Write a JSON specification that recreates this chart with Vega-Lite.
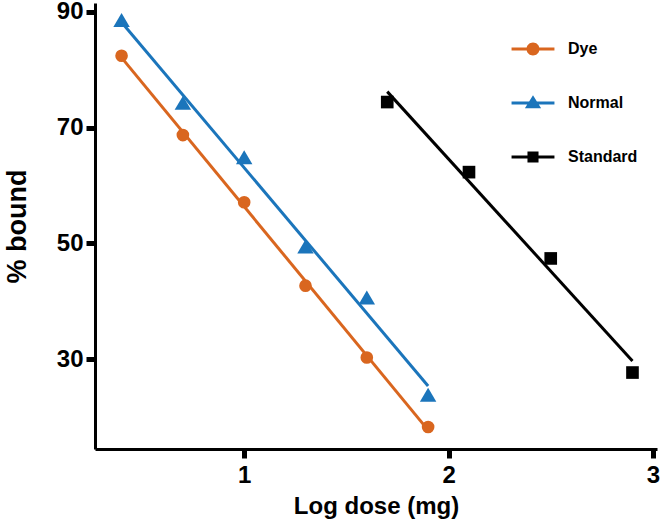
{
  "$schema": "https://vega.github.io/schema/vega-lite/v6.json",
  "width": 562,
  "height": 446,
  "autosize": "none",
  "padding": {"left": 95, "top": 3, "right": 6, "bottom": 78},
  "background": "white",
  "data": {
    "values": [
      {"series": "Dye", "dose": 0.4, "pct": 82.4},
      {"series": "Dye", "dose": 0.7, "pct": 68.7},
      {"series": "Dye", "dose": 1.0, "pct": 57.1},
      {"series": "Dye", "dose": 1.3, "pct": 42.7},
      {"series": "Dye", "dose": 1.6, "pct": 30.3},
      {"series": "Dye", "dose": 1.9, "pct": 18.3},
      {"series": "Normal", "dose": 0.4, "pct": 88.4},
      {"series": "Normal", "dose": 0.7, "pct": 74.1},
      {"series": "Normal", "dose": 1.0, "pct": 64.7},
      {"series": "Normal", "dose": 1.3, "pct": 49.3},
      {"series": "Normal", "dose": 1.6, "pct": 40.5},
      {"series": "Normal", "dose": 1.9, "pct": 23.7},
      {"series": "Standard", "dose": 1.7, "pct": 74.4},
      {"series": "Standard", "dose": 2.1, "pct": 62.3},
      {"series": "Standard", "dose": 2.5, "pct": 47.4},
      {"series": "Standard", "dose": 2.9, "pct": 27.7}
    ]
  },
  "encoding": {
    "x": {
      "field": "dose",
      "type": "quantitative",
      "title": "Log dose (mg)",
      "scale": {"domain": [0.27, 3.02], "nice": false, "zero": false},
      "axis": {"values": [1, 2, 3], "labelPadding": 5, "titlePadding": 7, "titleFontSize": 24}
    },
    "y": {
      "field": "pct",
      "type": "quantitative",
      "title": "% bound",
      "scale": {"domain": [14.5, 91.5], "nice": false, "zero": false},
      "axis": {"values": [30, 50, 70, 90], "labelPadding": 3, "titlePadding": 25, "titleFontSize": 27}
    }
  },
  "layer": [
    {
      "transform": [{"regression": "pct", "on": "dose", "groupby": ["series"]}],
      "mark": {"type": "line", "strokeWidth": 3},
      "encoding": {
        "color": {
          "field": "series",
          "type": "nominal",
          "legend": null,
          "scale": {"domain": ["Dye", "Normal", "Standard"], "range": ["#D9661F", "#1B75BB", "#000000"]}
        }
      }
    },
    {
      "mark": {"type": "point", "filled": true, "opacity": 1, "size": 160},
      "encoding": {
        "color": {
          "field": "series",
          "type": "nominal",
          "legend": null,
          "scale": {"domain": ["Dye", "Normal", "Standard"], "range": ["#D9661F", "#1B75BB", "#000000"]}
        },
        "shape": {
          "field": "series",
          "type": "nominal",
          "legend": null,
          "scale": {
            "domain": ["Dye", "Normal", "Standard"],
            "range": ["circle", "M0,-1.25L1.3,0.95L-1.3,0.95Z", "square"]
          }
        }
      }
    },
    {
      "transform": [{"filter": "false"}],
      "mark": {"type": "point", "filled": true, "opacity": 1},
      "encoding": {
        "color": {
          "field": "series",
          "type": "nominal",
          "scale": {"domain": ["Dye", "Normal", "Standard"], "range": ["#D9661F", "#1B75BB", "#000000"]},
          "legend": {
            "title": null,
            "orient": "none",
            "legendX": 430,
            "legendY": 38,
            "symbolSize": 169,
            "symbolStrokeWidth": 0,
            "labelOffset": 27,
            "rowPadding": 38,
            "labelFontSize": 16,
            "labelFont": "Liberation Sans",
            "labelFontWeight": "bold",
            "labelColor": "black"
          }
        },
        "shape": {
          "field": "series",
          "type": "nominal",
          "scale": {
            "domain": ["Dye", "Normal", "Standard"],
            "range": [
              "M-3.3,-0.23H3.3V0.23H-3.3Z M-1,0A1,1,0,1,1,1,0A1,1,0,1,1,-1,0Z",
              "M-3.3,-0.23H3.3V0.23H-3.3Z M0,-1.2L1.25,0.8L-1.25,0.8Z",
              "M-3.3,-0.23H3.3V0.23H-3.3Z M-0.85,-0.85H0.85V0.85H-0.85Z"
            ]
          },
          "legend": {
            "title": null,
            "orient": "none",
            "legendX": 430,
            "legendY": 38,
            "symbolSize": 169,
            "symbolStrokeWidth": 0,
            "labelOffset": 27,
            "rowPadding": 38,
            "labelFontSize": 16,
            "labelFont": "Liberation Sans",
            "labelFontWeight": "bold",
            "labelColor": "black"
          }
        }
      }
    }
  ],
  "resolve": {"scale": {"color": "independent", "shape": "independent"}},
  "config": {
    "view": {"stroke": null},
    "axis": {
      "grid": false,
      "domainColor": "black",
      "domainWidth": 3,
      "tickColor": "black",
      "tickWidth": 5,
      "tickSize": 9,
      "labelFont": "Liberation Sans",
      "labelFontWeight": "bold",
      "labelFontSize": 24,
      "labelColor": "black",
      "titleFont": "Liberation Sans",
      "titleFontWeight": "bold",
      "titleColor": "black"
    }
  }
}
